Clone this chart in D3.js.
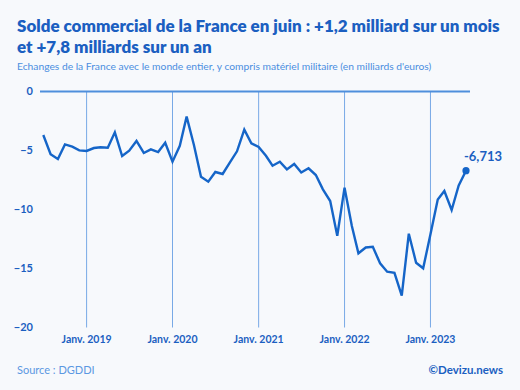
<!DOCTYPE html>
<html>
<head>
<meta charset="utf-8">
<script src="https://cdn.jsdelivr.net/npm/d3@7"></script>
<style>
  body { margin: 0; background: #f7f9fc; }
  svg { display: block; font-family: Lato, "Noto Sans", sans-serif; }
</style>
</head>
<body>
<div id="chart"></div>
<script>
var svgWidth = 520;
var svgHeight = 390;

// Solde commercial mensuel, juillet 2018 -> juin 2023 (milliards d'euros)
var firstMonth = new Date(2018, 6, 1);
var balance = [
  -3.69, -5.32, -5.72, -4.48, -4.68, -4.99,
  -5.04, -4.79, -4.73, -4.76, -3.46, -5.47, -5.01, -4.19, -5.21, -4.90, -5.13, -4.34,
  -5.95, -4.60, -2.13, -4.53, -7.22, -7.64, -6.82, -6.99, -6.00, -5.07, -3.23, -4.39,
  -4.70, -5.45, -6.29, -5.95, -6.60, -6.14, -6.87, -6.51, -7.08, -8.29, -9.28, -12.22,
  -8.15, -11.40, -13.71, -13.22, -13.16, -14.56, -15.27, -15.37, -17.30, -12.05, -14.51, -14.98,
  -12.10, -9.16, -8.43, -10.04, -7.96, -6.713
];
var yTicks = [0, -5, -10, -15, -20];
var xTicks = [2019, 2020, 2021, 2022, 2023];
var lastLabel = "-6,713";

var data = balance.map(function(v, i) {
  return { date: d3.timeMonth.offset(firstMonth, i), value: v };
});

var svg = d3.select("#chart")
  .append("svg")
  .attr("width", svgWidth)
  .attr("height", svgHeight);

svg.append("rect")
  .attr("width", svgWidth)
  .attr("height", svgHeight)
  .attr("fill", "#f7f9fc");

// shrink a text until it fits the wanted width
function fitWidth(sel, w, size) {
  sel.attr("font-size", size + "px");
  var len = sel.node().getComputedTextLength();
  if (len > 0) sel.attr("font-size", (size * w / len) + "px");
}

// Titles
var t1 = svg.append("text")
  .attr("x", 17)
  .attr("y", 32)
  .attr("fill", "#1b5fc1")
  .attr("font-weight", 800)
  .text("Solde commercial de la France en juin : +1,2 milliard sur un mois");
fitWidth(t1, 483, 18);

var t2 = svg.append("text")
  .attr("x", 17)
  .attr("y", 52.5)
  .attr("fill", "#1b5fc1")
  .attr("font-weight", 800)
  .attr("font-size", t1.attr("font-size"))
  .text("et +7,8 milliards sur un an");

var sub = svg.append("text")
  .attr("x", 17)
  .attr("y", 70)
  .attr("fill", "#4b8ee0")
  .text("Echanges de la France avec le monde entier, y compris matériel militaire (en milliards d'euros)");
fitWidth(sub, 415, 10);

// Scales
var x = d3.scaleTime()
  .domain([new Date(2018, 5, 17), new Date(2023, 5, 18)])
  .range([40, 470]);

var y = d3.scaleLinear()
  .domain([-20, 0])
  .range([327.5, 91.5]);

// Vertical gridlines at January
var chartGroup = svg.append("g");
chartGroup.selectAll(".vgrid")
  .data(xTicks)
  .enter()
  .append("line")
  .attr("class", "vgrid")
  .attr("x1", d => x(new Date(d, 0, 1)))
  .attr("x2", d => x(new Date(d, 0, 1)))
  .attr("y1", y(0))
  .attr("y2", y(-20))
  .attr("stroke", "#78a9e6")
  .attr("stroke-width", 1);

// Zero line
chartGroup.append("line")
  .attr("x1", x.range()[0])
  .attr("x2", x.range()[1])
  .attr("y1", y(0))
  .attr("y2", y(0))
  .attr("stroke", "#4f8fdc")
  .attr("stroke-width", 2);

// Y labels
svg.selectAll(".ylab")
  .data(yTicks)
  .enter()
  .append("text")
  .attr("class", "ylab")
  .attr("x", 33)
  .attr("y", d => y(d))
  .attr("dy", "0.35em")
  .attr("text-anchor", "end")
  .attr("fill", "#1b5fc1")
  .attr("font-size", "11px")
  .attr("font-weight", 700)
  .text(d => d === 0 ? "0" : "\u2212" + Math.abs(d));

// X labels
svg.selectAll(".xlab")
  .data(xTicks)
  .enter()
  .append("text")
  .attr("class", "xlab")
  .attr("x", d => x(new Date(d, 0, 1)))
  .attr("y", 343)
  .attr("text-anchor", "middle")
  .attr("fill", "#1b5fc1")
  .attr("font-size", "10.5px")
  .attr("font-weight", 700)
  .text(d => "Janv. " + d);

// Line
var line = d3.line()
  .x(d => x(d.date))
  .y(d => y(d.value));

chartGroup.append("path")
  .datum(data)
  .attr("d", line)
  .attr("fill", "none")
  .attr("stroke", "#1565c8")
  .attr("stroke-width", 2.4)
  .attr("stroke-linejoin", "miter");

var last = data[data.length - 1];
chartGroup.append("circle")
  .attr("cx", x(last.date))
  .attr("cy", y(last.value))
  .attr("r", 3.6)
  .attr("fill", "#1565c8");

svg.append("text")
  .attr("x", x(last.date) + 17)
  .attr("y", y(last.value) - 10)
  .attr("text-anchor", "middle")
  .attr("fill", "#1b5fc1")
  .attr("font-size", "13px")
  .attr("font-weight", 700)
  .text(lastLabel);

// Footer
svg.append("text")
  .attr("x", 17)
  .attr("y", 374)
  .attr("fill", "#5b98e2")
  .attr("font-size", "11px")
  .text("Source : DGDDI");

svg.append("text")
  .attr("x", 503)
  .attr("y", 374)
  .attr("text-anchor", "end")
  .attr("fill", "#1b5fc1")
  .attr("font-size", "11.5px")
  .attr("font-weight", 700)
  .text("\u00a9Devizu.news");
</script>
</body>
</html>
